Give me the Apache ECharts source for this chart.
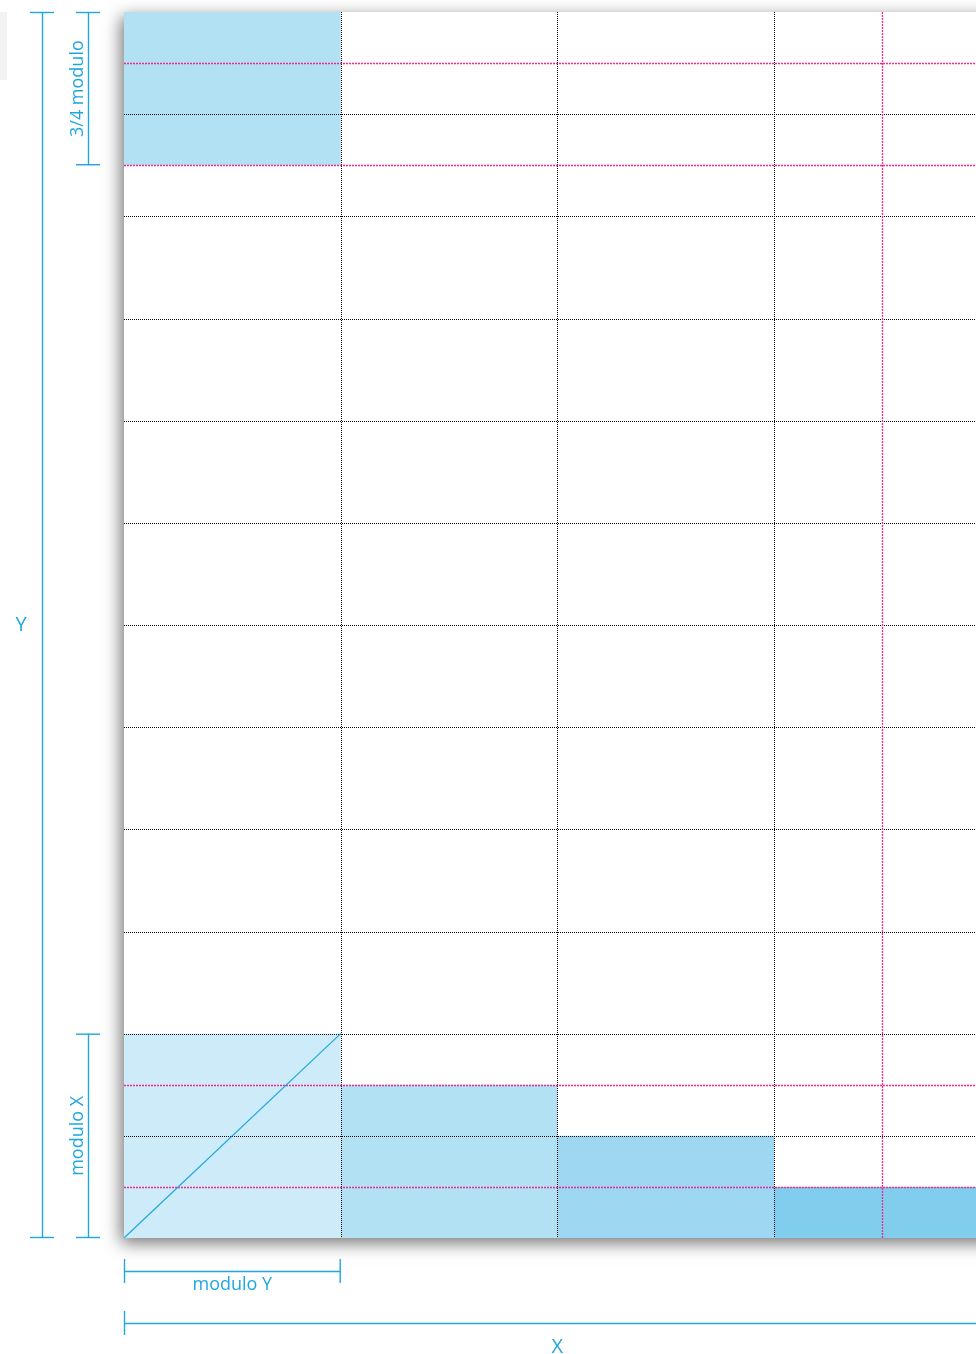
<!DOCTYPE html>
<html>
<head>
<meta charset="utf-8">
<script src="https://cdn.jsdelivr.net/npm/echarts@6/dist/echarts.min.js"></script>
<style>
html,body{margin:0;padding:0;background:#fff;}
#chart{width:976px;height:1354px;}
</style>
</head>
<body>
<div id="chart"></div>
<script>
// ---- data (in module units) ----
const X_MAX = 3.932;          // visible width of the sheet, in "modulo Y" columns
const SHEET_W = 4;            // full sheet width (continues past the window)
const Y_MAX = 12;             // sheet height, in half "modulo X" rows
const blackCols = [1, 2, 3];
const blackRows = [1, 2, 3, 4, 5, 6, 7, 8, 9, 10, 11];
const magentaCols = [3.5];
const magentaRows = [0.5, 1.5, 10.5, 11.5];
// [x0, x1, y0, y1, shadeIndex]
const blocks = [
  [0, 1, 10.5, 12, 1],
  [0, 1, 0, 2, 0],
  [1, 2, 0, 1.5, 1],
  [2, 3, 0, 1, 2],
  [3, X_MAX, 0, 0.5, 3]
];
const diagonal = [[0, 0], [1, 2]];
// dimension annotations: [label, from, to]
const dimY = ['Y', 0, 12];
const dimThreeQuarter = ['3/4 modulo', 10.5, 12];
const dimModuloX = ['modulo X', 0, 2];
const dimModuloY = ['modulo Y', 0, 1];
const dimX = ['X', 0, SHEET_W];

const shades = ['#cdebf8', '#b3e1f4', '#9dd7f1', '#80cdee'];
const BLUE = '#1ea7e1';
const FONT = '"Open Sans", "Noto Sans", sans-serif';

const chart = echarts.init(document.getElementById('chart'), null, {renderer: 'canvas'});

function lineSeries(values, vertical, color, z, dash, width) {
  return {
    type: 'custom',
    z: z,
    silent: true,
    data: values.map(v => [v]),
    renderItem: function (params, api) {
      const cs = params.coordSys;
      const v = api.value(0);
      let shape;
      if (vertical) {
        const x = Math.round(api.coord([v, 0])[0]) + 0.5;
        shape = {x1: x, y1: cs.y, x2: x, y2: cs.y + cs.height};
      } else {
        const y = Math.round(api.coord([0, v])[1]) + 0.5;
        shape = {x1: cs.x, y1: y, x2: cs.x + cs.width, y2: y};
      }
      return {type: 'line', shape: shape, style: {stroke: color, lineWidth: width, lineDash: dash}};
    }
  };
}

chart.setOption({
  animation: false,
  grid: {left: 124, top: 12, right: 0, bottom: 116, show: false},
  xAxis: {type: 'value', min: 0, max: X_MAX, show: false},
  yAxis: {type: 'value', min: 0, max: Y_MAX, show: false},
  series: [
    {
      type: 'custom',
      z: 2,
      silent: true,
      data: blocks,
      encode: {x: [0, 1], y: [2, 3]},
      renderItem: function (params, api) {
        const p0 = api.coord([api.value(0), api.value(3)]);
        const p1 = api.coord([api.value(1), api.value(2)]);
        return {type: 'rect', shape: {x: p0[0], y: p0[1], width: p1[0] - p0[0], height: p1[1] - p0[1]},
          style: {fill: shades[api.value(4)]}};
      }
    },
    lineSeries(blackRows, false, '#000000', 3, [1, 1], 1),
    lineSeries(blackCols, true, '#000000', 3, [1, 1], 1),
    lineSeries(magentaRows, false, '#ee2b8f', 4, [2, 1], 1.3),
    lineSeries(magentaCols, true, '#ee2b8f', 4, [2, 1], 1.3),
    {
      type: 'line',
      z: 5,
      silent: true,
      data: diagonal,
      symbol: 'none',
      lineStyle: {color: BLUE, width: 1.2}
    }
  ]
});

const px = v => chart.convertToPixel({xAxisIndex: 0}, v);
const py = v => chart.convertToPixel({yAxisIndex: 0}, v);

const g = [];
// sheet with shadow
g.push({type: 'rect', z: -10, silent: true,
  shape: {x: px(0), y: py(Y_MAX), width: 1200, height: py(0) - py(Y_MAX)},
  style: {fill: '#fff', shadowBlur: 16, shadowColor: 'rgba(0,0,0,0.55)', shadowOffsetX: -3, shadowOffsetY: 5}});
// neighbouring sheet at the far left
g.push({type: 'rect', z: -11, silent: true, shape: {x: 0, y: 12, width: 7, height: 68}, style: {fill: '#f2f2f2'}});

const LW = 1.4;
function vDim(d, x, capHalf, labelX, rotate, size) {
  const y0 = py(d[2]), y1 = py(d[1]);
  g.push({type: 'line', silent: true, shape: {x1: x + 0.5, y1: y0, x2: x + 0.5, y2: y1}, style: {stroke: BLUE, lineWidth: LW}});
  g.push({type: 'line', silent: true, shape: {x1: x - capHalf, y1: y0 + 0.5, x2: x + capHalf, y2: y0 + 0.5}, style: {stroke: BLUE, lineWidth: LW}});
  g.push({type: 'line', silent: true, shape: {x1: x - capHalf, y1: y1 - 0.5, x2: x + capHalf, y2: y1 - 0.5}, style: {stroke: BLUE, lineWidth: LW}});
  g.push({type: 'text', silent: true, x: labelX, y: (y0 + y1) / 2, rotation: rotate ? Math.PI / 2 : 0,
    style: {text: d[0], fill: BLUE, font: size + 'px ' + FONT, align: 'center', verticalAlign: 'middle'}});
}
function hDim(d, y, capHalf, labelY, rightCap, size) {
  const x0 = px(d[1]), x1 = px(d[2]);
  g.push({type: 'line', silent: true, shape: {x1: x0, y1: y + 0.5, x2: x1, y2: y + 0.5}, style: {stroke: BLUE, lineWidth: LW}});
  g.push({type: 'line', silent: true, shape: {x1: x0 + 0.5, y1: y - capHalf, x2: x0 + 0.5, y2: y + capHalf}, style: {stroke: BLUE, lineWidth: LW}});
  if (rightCap) g.push({type: 'line', silent: true, shape: {x1: x1 - 0.5, y1: y - capHalf, x2: x1 - 0.5, y2: y + capHalf}, style: {stroke: BLUE, lineWidth: LW}});
  g.push({type: 'text', silent: true, x: (x0 + x1) / 2, y: labelY,
    style: {text: d[0], fill: BLUE, font: size + 'px ' + FONT, align: 'center', verticalAlign: 'middle'}});
}
vDim(dimY, 42, 12, 21, false, 20);
vDim(dimThreeQuarter, 88, 12, 78, true, 18);
vDim(dimModuloX, 88, 12, 78, true, 18);
hDim(dimModuloY, 1271, 12, 1285, true, 18);
hDim(dimX, 1323, 12, 1347, false, 20);

chart.setOption({graphic: {elements: g}});
</script>
</body>
</html>
